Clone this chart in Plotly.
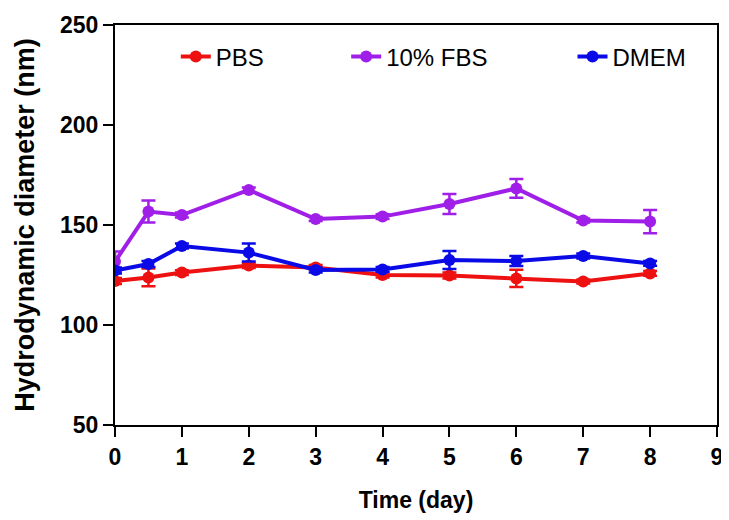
import plotly.graph_objects as go

time_days = [0, 0.5, 1, 2, 3, 4, 5, 6, 7, 8]

pbs_mean = [122.0, 123.8, 126.2, 129.7, 128.8, 125.0, 124.7, 123.3, 121.7, 125.8]
pbs_err = [1.5, 4.4, 1.2, 1.2, 1.2, 1.2, 1.5, 4.3, 1.0, 1.2]

fbs_mean = [131.7, 156.7, 155.0, 167.5, 153.0, 154.2, 160.5, 168.3, 152.2, 151.7]
fbs_err = [5.0, 5.5, 1.2, 1.2, 1.0, 1.2, 5.0, 4.7, 1.0, 5.8]

dmem_mean = [127.2, 130.5, 139.5, 136.2, 127.5, 127.8, 132.5, 132.0, 134.5, 130.8]
dmem_err = [1.5, 1.5, 1.2, 4.5, 1.2, 1.2, 4.5, 2.5, 1.2, 1.2]

x_ticks = [0, 1, 2, 3, 4, 5, 6, 7, 8, 9]
y_ticks = [50, 100, 150, 200, 250]

series = [
    ("PBS", pbs_mean, pbs_err, "#EE1111", "legend", 0.101),
    ("10% FBS", fbs_mean, fbs_err, "#A01FE8", "legend2", 0.384),
    ("DMEM", dmem_mean, dmem_err, "#0A0AE6", "legend3", 0.760),
]

FONT = "Liberation Sans, Arial, sans-serif"

fig = go.Figure()
for name, mean, err, color, leg, lx in series:
    fig.add_trace(go.Scatter(
        x=time_days, y=mean, name=name, mode="lines+markers",
        line=dict(color=color, width=4),
        marker=dict(color=color, size=12, symbol="circle"),
        error_y=dict(type="data", array=err, visible=True, color=color,
                     thickness=2.5, width=7),
        legend=leg, showlegend=True,
    ))

legend_common = dict(
    orientation="h", yanchor="middle", y=0.92, xanchor="left",
    bgcolor="rgba(0,0,0,0)", borderwidth=0,
    font=dict(family=FONT, size=24, color="black"),
)
fig.update_layout(
    showlegend=True,
    legend=dict(x=series[0][5], **legend_common),
    legend2=dict(x=series[1][5], **legend_common),
    legend3=dict(x=series[2][5], **legend_common),
)

axis_common = dict(
    showline=True, linecolor="black", linewidth=2, mirror=True,
    ticks="outside", tickcolor="black", tickwidth=2, ticklen=10,
    showgrid=False, zeroline=False, automargin=False,
    tickfont=dict(family=FONT, size=23, color="black", weight="bold"),
)

fig.update_xaxes(
    range=[0, 9], tickvals=x_ticks, ticktext=[str(v) for v in x_ticks],
    title=dict(text="Time (day)", font=dict(family=FONT, size=23, color="black", weight="bold"), standoff=23),
    **axis_common,
)
fig.update_yaxes(
    range=[50, 250], tickvals=y_ticks, ticktext=[str(v) for v in y_ticks],
    title=dict(text="Hydrodynamic diameter (nm)", font=dict(family=FONT, size=27, color="black", weight="bold"), standoff=18),
    **axis_common,
)

# the page body adds an 8px offset, so the figure is 8px smaller than the window
fig.update_layout(
    width=721, height=512,
    margin=dict(l=107, r=12, t=17, b=95),
    paper_bgcolor="white", plot_bgcolor="white",
    font=dict(family=FONT, color="black"),
)

fig.write_html("out.html")
